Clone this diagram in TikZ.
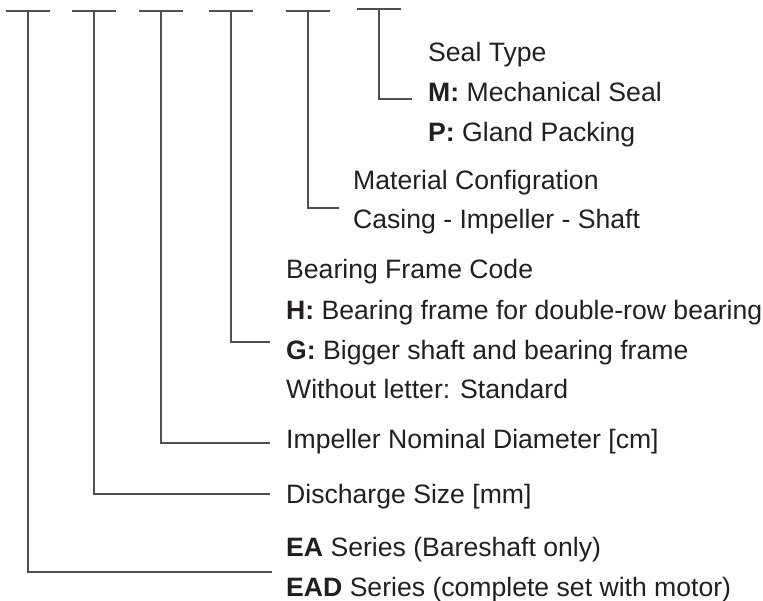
\documentclass[tikz,border=0pt]{standalone}
\usepackage{fontspec}
\setmainfont{Liberation Sans}
\begin{document}
\begin{tikzpicture}[x=1pt,y=-1pt,
  lbl/.style={anchor=base west,inner sep=0pt,text=txt,font=\fontsize{26.6}{30}\selectfont},
  conn/.style={draw=ln,line width=1.3pt},
  bar/.style={draw=ln,line width=1.3pt}]
\definecolor{txt}{HTML}{231F20}
\definecolor{ln}{HTML}{505050}
\useasboundingbox (0,0) rectangle (763,601);
% bar tops
\coordinate (t1) at (28,11);
\coordinate (t2) at (94,11);
\coordinate (t3) at (161,11);
\coordinate (t4) at (231,11);
\coordinate (t5) at (308,11);
\coordinate (t6) at (379,9);
\foreach \i in {1,...,6}{\draw[bar] ([xshift=-22pt]t\i) -- ([xshift=22pt]t\i);}
% texts
\node[lbl] (seal) at (428,62) {Seal Type};
\node[lbl] (m) at (428,102) {\textbf{M:} Mechanical Seal};
\node[lbl] (p) at (428,142) {\textbf{P:} Gland Packing};
\node[lbl] (mat) at (353,190) {Material Configration};
\node[lbl] (cas) at (353,229) {Casing - Impeller - Shaft};
\node[lbl] (bfc) at (286,279) {Bearing Frame Code};
\node[lbl] (h) at (286,320) {\textbf{H:} Bearing frame for double-row bearing};
\node[lbl] (g) at (286,360) {\textbf{G:} Bigger shaft and bearing frame};
\node[lbl] (wl) at (286,399) {Without letter: Standard};
\node[lbl] (imp) at (286,448) {Impeller Nominal Diameter [cm]};
\node[lbl] (dis) at (286,503) {Discharge Size [mm]};
\node[lbl] (ea) at (286,556) {\textbf{EA} Series (Bareshaft only)};
\node[lbl] (ead) at (286,596) {\textbf{EAD} Series (complete set with motor)};
% elbow ends
\coordinate (e6) at (412,99);
\coordinate (e5) at (339,208);
\coordinate (e4) at (270,342);
\coordinate (e3) at (270,443);
\coordinate (e2) at (270,494);
\coordinate (e1) at (272,572);
\foreach \i in {1,...,6}{\draw[conn] (t\i) |- (e\i);}
\end{tikzpicture}
\end{document}
